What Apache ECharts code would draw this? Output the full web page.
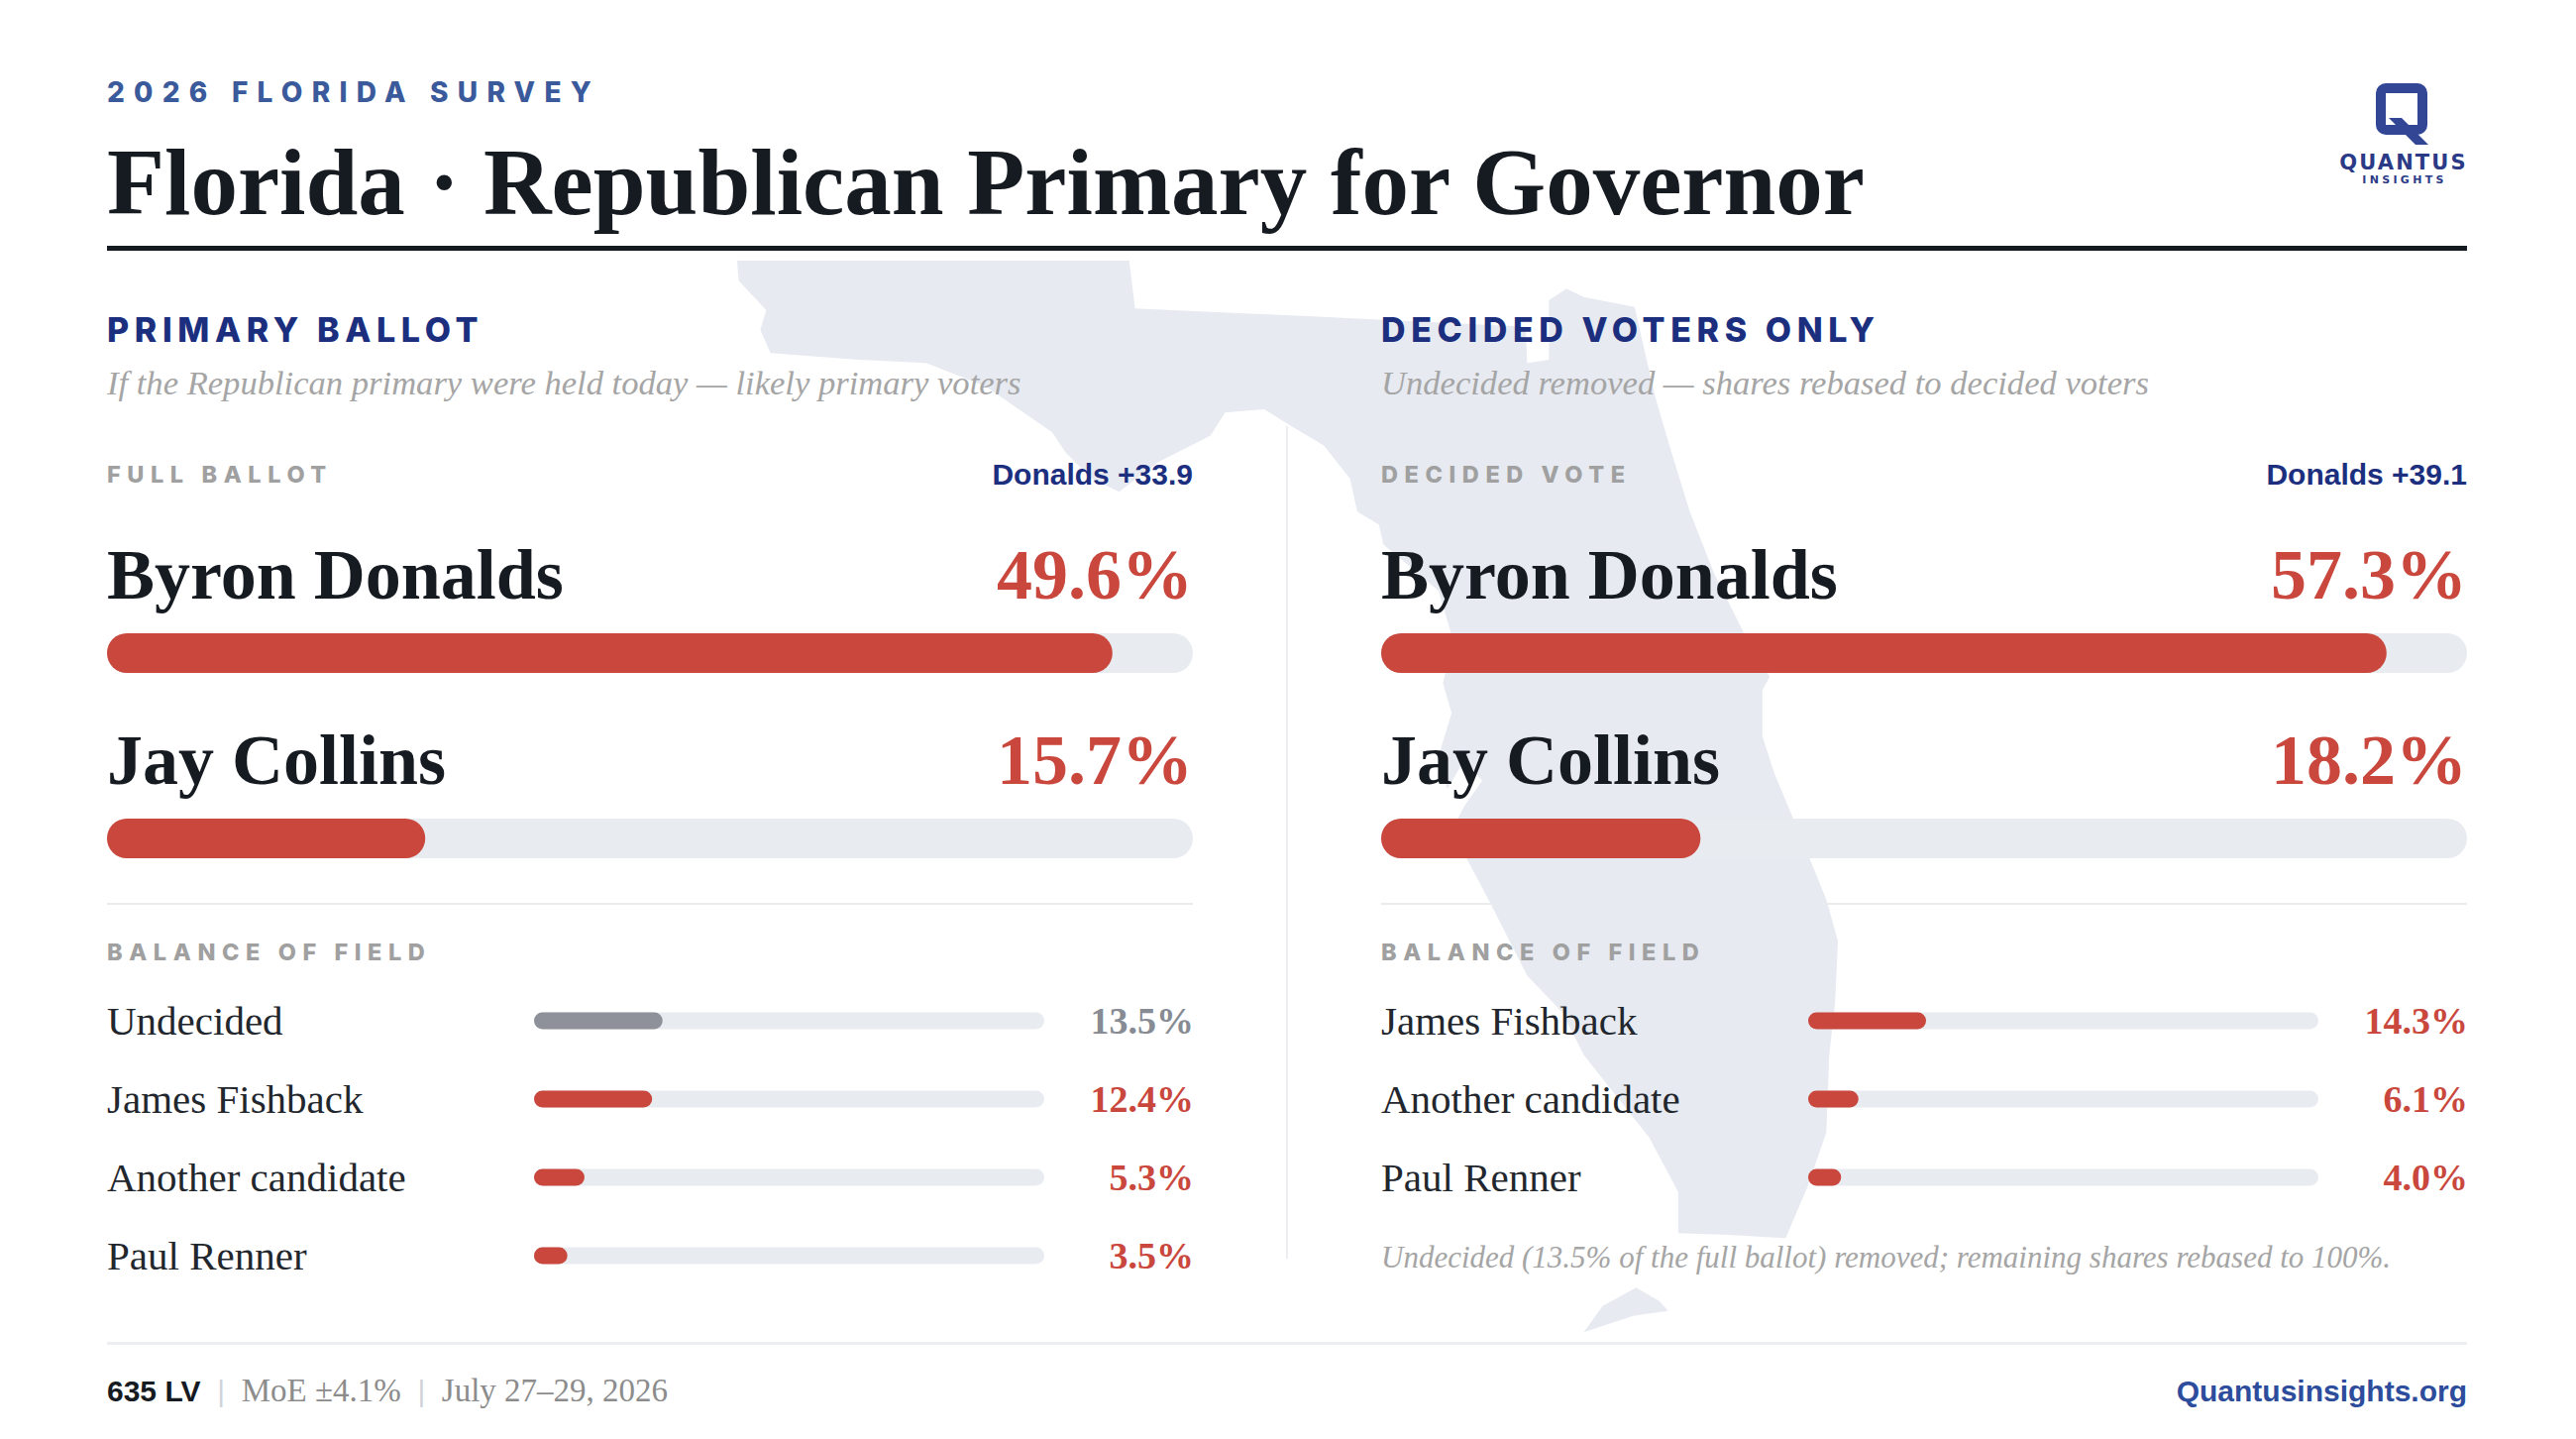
<!DOCTYPE html>
<html>
<head>
<meta charset="utf-8">
<title>Florida · Republican Primary for Governor</title>
<script src="https://cdn.jsdelivr.net/npm/echarts@6.0.0/dist/echarts.min.js"></script>
<style>
    html, body { margin: 0; padding: 0; background: #fff; }
    #chart { width: 2600px; height: 1452px; }
    /* zrender has no letter-spacing, the svg renderer lets css do the tracked caps */
    #chart text[style*="track-xl"] { letter-spacing: 0.33em; }
    #chart text[style*="track-md"] { letter-spacing: 0.165em; }
    #chart text[style*="track-sm"] { letter-spacing: 0.28em; }
    #chart text[style*="track-q"] { letter-spacing: 0.1em; }
    #chart text[style*="track-i"] { letter-spacing: 0.3em; }
</style>
</head>
<body>
<div id="chart"></div>
<script>
// data
const candidates = ['Byron Donalds', 'Jay Collins'];
const fullBallot = [49.6, 15.7];
const decidedVote = [57.3, 18.2];
const fieldFull = ['Undecided', 'James Fishback', 'Another candidate', 'Paul Renner'];
const fieldFullValues = [13.5, 12.4, 5.3, 3.5];
const fieldDecided = ['James Fishback', 'Another candidate', 'Paul Renner'];
const fieldDecidedValues = [14.3, 6.1, 4.0];

// background silhouette, lon / lat
const floridaOutline = [
    [-87.63, 31.00], [-84.93, 31.00], [-84.89, 30.71], [-83.60, 30.66], [-82.20, 30.60],
    [-82.19, 30.38], [-82.04, 30.40], [-82.04, 30.76], [-81.92, 30.83], [-81.80, 30.78],
    [-81.45, 30.72], [-81.38, 30.45], [-81.31, 30.18], [-81.20, 29.85], [-81.07, 29.48],
    [-80.90, 29.10], [-80.70, 28.75], [-80.52, 28.48], [-80.57, 28.40], [-80.57, 28.12],
    [-80.49, 27.90], [-80.31, 27.52], [-80.13, 27.13], [-80.05, 26.88], [-80.07, 26.50],
    [-80.11, 26.19], [-80.13, 25.72], [-80.26, 25.39], [-80.41, 25.08], [-80.80, 25.10],
    [-81.15, 25.11], [-81.15, 25.36], [-81.35, 25.69], [-81.80, 26.19], [-81.95, 26.45],
    [-82.19, 26.67], [-82.45, 27.12], [-82.71, 27.55], [-82.62, 27.70], [-82.50, 27.85],
    [-82.62, 27.98], [-82.74, 27.80], [-82.80, 28.00], [-82.71, 28.26], [-82.77, 28.44],
    [-82.70, 28.70], [-82.80, 29.00], [-83.00, 29.15], [-83.18, 29.28], [-83.21, 29.40],
    [-83.36, 29.48], [-83.41, 29.68], [-83.59, 29.88], [-83.82, 30.00], [-84.00, 30.10],
    [-84.27, 30.08], [-84.37, 29.94], [-84.73, 29.78], [-85.00, 29.60], [-85.19, 29.68],
    [-85.37, 29.84], [-85.46, 29.96], [-85.69, 30.10], [-85.92, 30.24], [-86.33, 30.38],
    [-86.79, 30.40], [-87.40, 30.44], [-87.47, 30.58], [-87.43, 30.70], [-87.62, 30.88],
    [-87.63, 31.00]
];
const keysOutline = [
    [-81.80, 24.51], [-81.67, 24.67], [-81.44, 24.78], [-81.28, 24.70], [-81.22, 24.64],
    [-81.46, 24.61], [-81.80, 24.51]
];

// styles
const RED = '#c9473c';
const TRACK = '#e8ebf0';
const INK = '#161a21';
const NAVY = '#1c2f7f';
const TAG = '#a0a0a0';
const SOFT = '#a5a5a5';
const UNDECIDED_BAR = '#8e9199';
const UNDECIDED_TEXT = '#868b94';
const SERIF = '"Liberation Serif", "DejaVu Serif", serif';
const SANS = '"Liberation Sans", Arial, sans-serif';

echarts.registerMap('florida', {
    type: 'FeatureCollection',
    features: [{
        type: 'Feature',
        properties: {name: 'Florida'},
        geometry: {type: 'MultiPolygon', coordinates: [[floridaOutline], [keysOutline]]}
    }]
});

/**
 * one column: two big bars plus the balance-of-field rows
 */
const buildPanel = (k, x0, names, values, field, fieldValues) => {
    const gi = k * 2;
    const max = Math.max(...values) * 1.08;
    const grid = [
        {left: x0, top: 565.5, width: 1096, height: 374},
        {left: x0 + 431, top: 990.5, width: 515, height: field.length * 79}
    ];
    const xAxis = [0, 1].map(i => ({gridIndex: gi + i, type: 'value', min: 0, max: max, show: false}));
    const yAxis = [
        {gridIndex: gi, type: 'category', data: names, inverse: true, show: false},
        {gridIndex: gi + 1, type: 'category', data: field, inverse: true, show: false}
    ];
    const series = [
        // big track, carries the value
        {
            type: 'bar', xAxisIndex: gi, yAxisIndex: gi, silent: true, z: 3,
            barWidth: 40, barGap: '-100%',
            data: values.map(() => max),
            itemStyle: {color: TRACK, borderRadius: 20},
            label: {
                show: true, position: ['100%', -59], align: 'right', verticalAlign: 'middle',
                formatter: p => values[p.dataIndex].toFixed(1) + '%',
                color: RED, fontFamily: SERIF, fontWeight: 'bold', fontSize: 72
            }
        },
        // big fill, carries the name
        {
            type: 'bar', xAxisIndex: gi, yAxisIndex: gi, silent: true, z: 4,
            barWidth: 40, barGap: '-100%',
            data: values,
            itemStyle: {color: RED, borderRadius: 20},
            label: {
                show: true, position: [0, -59], align: 'left', verticalAlign: 'middle',
                formatter: p => names[p.dataIndex],
                color: INK, fontFamily: SERIF, fontWeight: 'bold', fontSize: 72
            }
        },
        // field track
        {
            type: 'bar', xAxisIndex: gi + 1, yAxisIndex: gi + 1, silent: true, z: 3,
            barWidth: 17, barGap: '-100%',
            data: field.map(name => ({
                value: max,
                label: {color: name === 'Undecided' ? UNDECIDED_TEXT : RED}
            })),
            itemStyle: {color: TRACK, borderRadius: 8.5},
            label: {
                show: true, position: ['100%', '50%'], offset: [151, 0], align: 'right', verticalAlign: 'middle',
                formatter: p => fieldValues[p.dataIndex].toFixed(1) + '%',
                fontFamily: SERIF, fontWeight: 'bold', fontSize: 38
            }
        },
        // field fill
        {
            type: 'bar', xAxisIndex: gi + 1, yAxisIndex: gi + 1, silent: true, z: 4,
            barWidth: 17, barGap: '-100%',
            data: fieldValues.map((v, i) => ({
                value: v,
                itemStyle: {color: field[i] === 'Undecided' ? UNDECIDED_BAR : RED}
            })),
            itemStyle: {borderRadius: 8.5},
            label: {
                show: true, position: [-431, '50%'], align: 'left', verticalAlign: 'middle',
                formatter: p => field[p.dataIndex],
                color: '#22262d', fontFamily: SERIF, fontSize: 41
            }
        }
    ];
    return {grid, xAxis, yAxis, series};
};

const left = buildPanel(0, 108, candidates, fullBallot, fieldFull, fieldFullValues);
const right = buildPanel(1, 1394, candidates, decidedVote, fieldDecided, fieldDecidedValues);

const leadText = values => candidates[0].split(' ').pop() + ' +' + (values[0] - values[1]).toFixed(1);

const txt = (x, y, text, style) => ({
    type: 'text', x: x, y: y, z: 10, silent: true,
    style: Object.assign({text: text, align: 'left', verticalAlign: 'middle',
        textAlign: 'left', textVerticalAlign: 'middle'}, style)
});
const bar = (x, y, w, h, color) => ({
    type: 'rect', z: 1, silent: true, shape: {x: x, y: y, width: w, height: h}, style: {fill: color}
});

const LOGO = '#324695';
const TAG_FONT = {fill: TAG, fontFamily: 'track-sm, Inter, sans-serif', fontWeight: 800, fontSize: 23.5};
const HEAD_FONT = {fill: NAVY, fontFamily: 'track-md, Inter, sans-serif', fontWeight: 800, fontSize: 34};
const SUB_FONT = {fill: SOFT, fontFamily: SERIF, fontStyle: 'italic', fontSize: 34.6};
const LEAD_FONT = {fill: NAVY, fontFamily: SANS, fontWeight: 'bold', fontSize: 30, align: 'right', textAlign: 'right'};

const graphic = [
    txt(108, 93, '2026 FLORIDA SURVEY', {fill: '#3a5a9b', fontFamily: 'track-xl, Inter, sans-serif', fontWeight: 800, fontSize: 28}),
    txt(108, 184, 'Florida · Republican Primary for Governor', {fill: INK, fontFamily: SERIF, fontWeight: 'bold', fontSize: 95}),
    bar(108, 248, 2382, 5, INK),

    // logo
    {type: 'rect', z: 10, silent: true, shape: {x: 2403, y: 89, width: 42, height: 42, r: 5},
        style: {fill: 'none', stroke: LOGO, lineWidth: 10}},
    {type: 'polygon', z: 11, silent: true, shape: {points: [[2411, 119], [2424, 119], [2451, 146], [2438, 146]]},
        style: {fill: LOGO}},
    txt(2426, 164, 'QUANTUS', {fill: '#2b3a86', fontFamily: 'track-q, "DejaVu Sans", sans-serif', fontWeight: 'bold', fontSize: 21, align: 'center', textAlign: 'center'}),
    txt(2427, 181, 'INSIGHTS', {fill: '#2b3a86', fontFamily: 'track-i, "DejaVu Sans", sans-serif', fontWeight: 'bold', fontSize: 11, align: 'center', textAlign: 'center'}),

    // panel heads
    txt(108, 332, 'PRIMARY BALLOT', HEAD_FONT),
    txt(1394, 332, 'DECIDED VOTERS ONLY', HEAD_FONT),
    txt(108, 386, 'If the Republican primary were held today — likely primary voters', SUB_FONT),
    txt(1394, 386, 'Undecided removed — shares rebased to decided voters', SUB_FONT),
    txt(108, 478, 'FULL BALLOT', TAG_FONT),
    txt(1394, 478, 'DECIDED VOTE', TAG_FONT),
    txt(1204, 478, leadText(fullBallot), LEAD_FONT),
    txt(2490, 478, leadText(decidedVote), LEAD_FONT),

    bar(108, 911, 1096, 2, '#e9ebef'),
    bar(1394, 911, 1096, 2, '#e9ebef'),
    txt(108, 960, 'BALANCE OF FIELD', TAG_FONT),
    txt(1394, 960, 'BALANCE OF FIELD', TAG_FONT),
    bar(1298, 430, 2, 840, '#eceef2'),
    txt(1394, 1268, 'Undecided (13.5% of the full ballot) removed; remaining shares rebased to 100%.', {fill: SOFT, fontFamily: SERIF, fontStyle: 'italic', fontSize: 31}),

    // footer
    bar(108, 1354, 2382, 3, '#eceef1'),
    txt(108, 1403, '{b|635 LV}{sep|  |  }{s|MoE ±4.1%}{sep|  |  }{s|July 27–29, 2026}', {
        rich: {
            b: {fill: INK, color: INK, fontFamily: SANS, fontWeight: 'bold', fontSize: 30},
            sep: {fill: '#cfd3d9', color: '#cfd3d9', fontFamily: SANS, fontSize: 30},
            s: {fill: '#8c8c8c', color: '#8c8c8c', fontFamily: SERIF, fontSize: 33}
        }
    }),
    txt(2490, 1403, 'Quantusinsights.org', {fill: '#2d4c9c', fontFamily: SANS, fontWeight: 'bold', fontSize: 30, align: 'right', textAlign: 'right'})
];

const chart = echarts.init(document.getElementById('chart'), null, {renderer: 'svg'});
chart.setOption({
    animation: false,
    backgroundColor: '#ffffff',
    geo: {
        map: 'florida',
        roam: false,
        silent: true,
        selectedMode: false,
        boundingCoords: [[-87.63, 31.0], [-80.03, 24.5]],
        aspectScale: 0.88,
        left: 744, top: 263, width: 1114, height: 1083,
        itemStyle: {areaColor: '#e7eaf1', borderWidth: 0},
        label: {show: false},
        emphasis: {disabled: true},
        z: 0
    },
    grid: [...left.grid, ...right.grid],
    xAxis: [...left.xAxis, ...right.xAxis],
    yAxis: [...left.yAxis, ...right.yAxis],
    series: [...left.series, ...right.series],
    graphic: graphic
});
</script>
</body>
</html>
